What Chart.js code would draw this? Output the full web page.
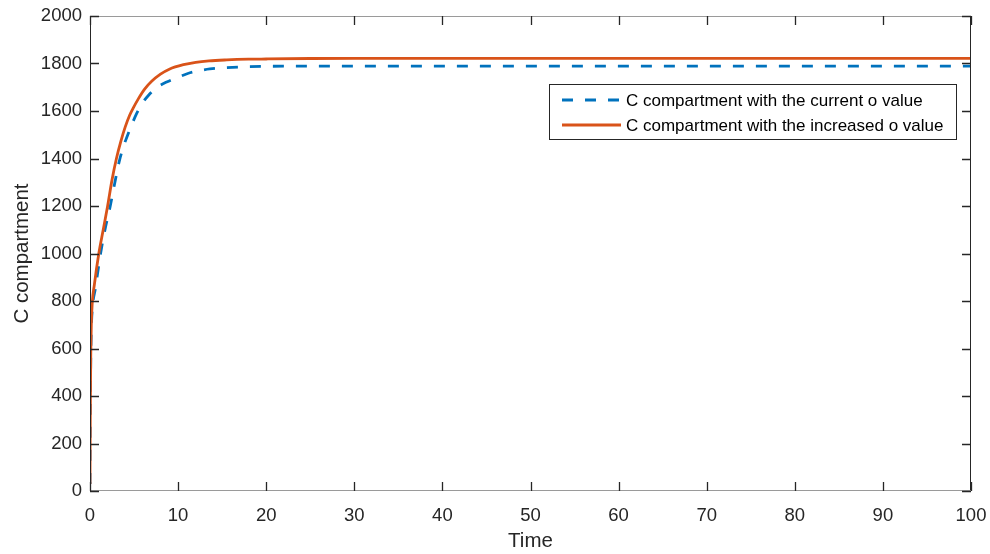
<!DOCTYPE html>
<html><head><meta charset="utf-8">
<script src="https://cdn.jsdelivr.net/npm/chart.js@4/dist/chart.umd.min.js"></script>
<style>html,body{margin:0;padding:0;background:#fff;}#wrap{width:990px;height:554px;}</style>
</head><body><div id="wrap"><canvas id="c" width="990" height="554"></canvas></div>
<script>
// ---- data ----
const seriesLabels = ['C compartment with the current o value', 'C compartment with the increased o value'];
const timeCurrent  = [0, 0.03, 0.08, 0.15, 0.3, 0.6, 1.2, 1.7, 2.3, 2.8, 3.3, 3.8, 4.5, 5.3, 6.0, 6.6, 7.5, 8.7, 10, 11.1, 12.3, 13.6, 16.2, 20, 25, 30, 100];
const valueCurrent = [30, 290, 530, 680, 780, 850, 1000, 1100, 1200, 1295, 1385, 1450, 1520, 1590, 1636, 1664, 1697, 1722, 1742, 1758, 1769, 1777, 1784, 1788, 1789, 1789, 1789];
const timeIncreased  = [0, 0.03, 0.08, 0.15, 0.25, 0.5, 1.0, 1.5, 2.0, 2.5, 3.0, 3.5, 4.0, 4.5, 4.9, 5.5, 6.2, 7.0, 8.0, 9.0, 10.6, 12, 13.5, 15.5, 18, 20, 25, 30, 100];
const valueIncreased = [30, 300, 550, 700, 790, 870, 1000, 1100, 1200, 1310, 1400, 1472, 1533, 1582, 1612, 1652, 1692, 1725, 1755, 1776, 1795, 1805, 1811, 1815, 1818, 1819, 1821, 1822, 1822];
const xTickValues = [0, 10, 20, 30, 40, 50, 60, 70, 80, 90, 100];
const yTickValues = [0, 200, 400, 600, 800, 1000, 1200, 1400, 1600, 1800, 2000];
const xAxisTitle = 'Time';
const yAxisTitle = 'C compartment';
const seriesColors = ['#0072BD', '#D95319'];

const FONT = "'Liberation Sans', Arial, Helvetica, sans-serif";
const AXIS_COLOR = '#262626';
const TICK_LEN = 9;

const toPoints = (xs, ys) => xs.map((x, i) => ({x: x, y: ys[i]}));

const boxPlugin = {
  id: 'matlabBox',
  afterDraw(chart) {
    const ctx = chart.ctx;
    const a = chart.chartArea;
    const xs = chart.scales.x, ys = chart.scales.y;
    ctx.save();
    ctx.lineWidth = 1;
    ctx.strokeStyle = AXIS_COLOR;
    ctx.beginPath();
    ctx.moveTo(a.left + 0.5, a.top); ctx.lineTo(a.left + 0.5, a.bottom);
    ctx.moveTo(a.right - 0.5, a.top); ctx.lineTo(a.right - 0.5, a.bottom);
    ctx.stroke();
    ctx.strokeStyle = '#9a9a9a';
    ctx.beginPath();
    ctx.moveTo(a.left, a.top + 0.5); ctx.lineTo(a.right, a.top + 0.5);
    ctx.moveTo(a.left, a.bottom - 0.5); ctx.lineTo(a.right, a.bottom - 0.5);
    ctx.stroke();
    ctx.strokeStyle = AXIS_COLOR;
    ctx.lineWidth = 1.3;
    ctx.beginPath();
    xs.ticks.forEach(t => {
      const px = Math.round(xs.getPixelForValue(t.value)) + 0.5;
      ctx.moveTo(px, a.bottom); ctx.lineTo(px, a.bottom - TICK_LEN);
      ctx.moveTo(px, a.top); ctx.lineTo(px, a.top + TICK_LEN);
    });
    ys.ticks.forEach(t => {
      const py = Math.round(ys.getPixelForValue(t.value)) + 0.5;
      ctx.moveTo(a.left, py); ctx.lineTo(a.left + TICK_LEN, py);
      ctx.moveTo(a.right, py); ctx.lineTo(a.right - TICK_LEN, py);
    });
    ctx.stroke();

    const L = {x: 549, y: 84, w: 407, h: 55};
    ctx.fillStyle = '#ffffff';
    ctx.fillRect(L.x, L.y, L.w, L.h);
    ctx.lineWidth = 1;
    ctx.strokeStyle = AXIS_COLOR;
    ctx.strokeRect(L.x + 0.5, L.y + 0.5, L.w, L.h);
    ctx.font = '17px ' + FONT;
    ctx.textBaseline = 'middle';
    ctx.textAlign = 'left';
    chart.data.datasets.forEach((ds, i) => {
      const cy = L.y + 16 + i * 25;
      ctx.save();
      ctx.strokeStyle = ds.borderColor;
      ctx.lineWidth = ds.borderWidth;
      ctx.setLineDash(ds.borderDash || []);
      ctx.beginPath();
      ctx.moveTo(562, cy); ctx.lineTo(621, cy);
      ctx.stroke();
      ctx.restore();
      ctx.fillStyle = '#000000';
      ctx.fillText(ds.label, 626, cy + 1);
    });
    ctx.restore();
  }
};

const plainLabel = v => String(v);

new Chart(document.getElementById('c'), {
  type: 'line',
  data: {
    datasets: [
      {
        label: seriesLabels[0],
        data: toPoints(timeCurrent, valueCurrent),
        borderColor: seriesColors[0],
        borderWidth: 2.8,
        borderDash: [11, 12],
        pointRadius: 0,
        fill: false,
        cubicInterpolationMode: 'monotone',
        order: 1
      },
      {
        label: seriesLabels[1],
        data: toPoints(timeIncreased, valueIncreased),
        borderColor: seriesColors[1],
        borderWidth: 2.8,
        pointRadius: 0,
        fill: false,
        cubicInterpolationMode: 'monotone',
        order: 0
      }
    ]
  },
  options: {
    responsive: false,
    animation: false,
    devicePixelRatio: 1,
    layout: {padding: {top: 16, right: 19, left: 0, bottom: 0}},
    plugins: {legend: {display: false}, tooltip: {enabled: false}},
    scales: {
      x: {
        type: 'linear',
        min: 0, max: 100,
        afterBuildTicks: s => { s.ticks = xTickValues.map(v => ({value: v})); },
        afterFit: s => { s.height = 63; s.paddingLeft = 0; s.paddingRight = 0; s.paddingTop = 0; s.paddingBottom = 0; },
        grid: {display: false, drawTicks: false},
        border: {display: false},
        ticks: {color: AXIS_COLOR, font: {family: FONT, size: 18.5}, padding: 14, maxRotation: 0, autoSkip: false, callback: plainLabel},
        title: {display: true, text: xAxisTitle, color: AXIS_COLOR, font: {family: FONT, size: 20.5}, padding: {top: 0, bottom: 0}}
      },
      y: {
        min: 0, max: 2000,
        afterBuildTicks: s => { s.ticks = yTickValues.map(v => ({value: v})); },
        afterFit: s => { s.width = 90; s.paddingLeft = 0; s.paddingRight = 0; s.paddingTop = 0; s.paddingBottom = 0; },
        grid: {display: false, drawTicks: false},
        border: {display: false},
        ticks: {color: AXIS_COLOR, font: {family: FONT, size: 18.5}, padding: 8, autoSkip: false, callback: plainLabel},
        title: {display: true, text: yAxisTitle, color: AXIS_COLOR, font: {family: FONT, size: 20.5}, padding: {top: 10, bottom: 0}}
      }
    }
  },
  plugins: [boxPlugin]
});
</script>
</body></html>
